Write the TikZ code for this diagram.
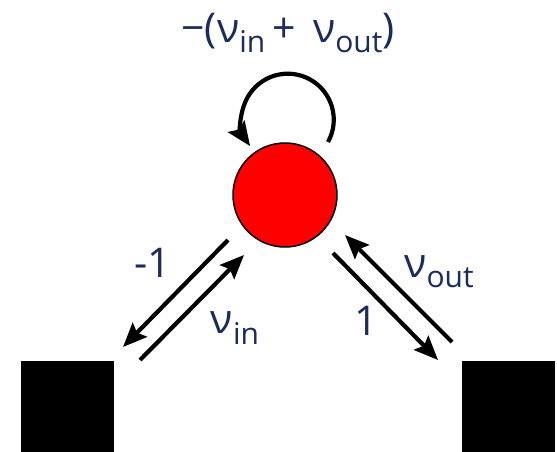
\documentclass[tikz,border=0pt]{standalone}
\usepackage{fontspec}
\setmainfont{Open Sans}
\usetikzlibrary{arrows.meta}
\definecolor{navy}{HTML}{1A2B5C}
\definecolor{nodered}{HTML}{FF0000}
\newcommand\lbsub[1]{\raisebox{-0.25em}{\fontsize{30}{30}\selectfont #1}}
\begin{document}
\begin{tikzpicture}[x=1pt,y=-1pt,
  arr/.style={line width=4.2pt,-{Stealth[length=24pt,width=20pt,inset=4pt]}},
  lbl/.style={text=navy,font=\fontsize{41}{41}\selectfont,inner sep=0pt},
  blk/.style={fill=black,draw=none,minimum width=93pt,minimum height=91pt,inner sep=0pt}]
\useasboundingbox (0,0) rectangle (557,452);
\node[circle,fill=nodered,draw=black,line width=1.5pt,minimum size=104pt,inner sep=0pt] (c) at (285,195) {};
\node[blk] (a) at (67.5,406.5) {};
\node[blk] (b) at (508.5,406.5) {};
% loop
\coordinate (ls) at (328,142);
\draw[arr] (ls) arc[start angle=29,end angle=-215,radius=46];
% left arrows
\coordinate (l1s) at (228,240); \coordinate (l1e) at (123,347);
\coordinate (l2s) at (140,360); \coordinate (l2e) at (244,255);
\draw[arr] (l1s) -- (l1e);
\draw[arr] (l2s) -- (l2e);
% right arrows
\coordinate (r1s) at (452,342); \coordinate (r1e) at (345,235);
\coordinate (r2s) at (333,253); \coordinate (r2e) at (438,360);
\draw[arr] (r1s) -- (r1e);
\draw[arr] (r2s) -- (r2e);
% labels
\node[lbl] (top) at (288,33) {−(ν\lbsub{in}\,+\, ν\lbsub{out})};
\node[lbl] (m1) at (153,263) {-1};
\node[lbl] (nin) at (235,328) {ν\lbsub{in}};
\node[lbl] (nout) at (439,272) {ν\lbsub{out}};
\node[lbl] (one) at (366,321) {1};
\end{tikzpicture}
\end{document}
